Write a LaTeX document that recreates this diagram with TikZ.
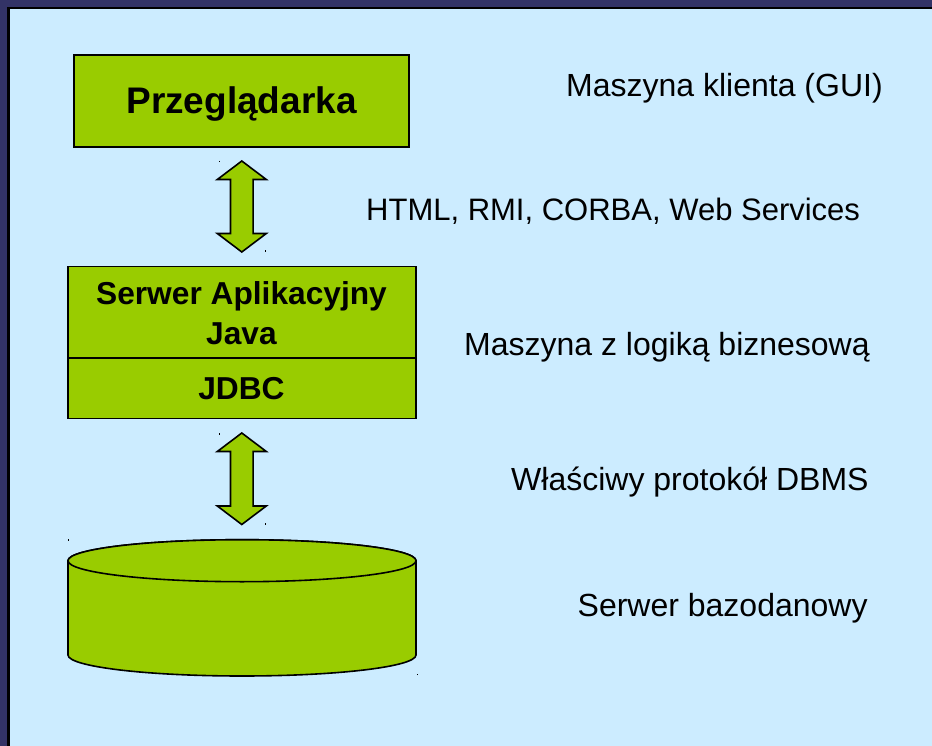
\documentclass[tikz,border=0pt]{standalone}
\usepackage{fontspec}
\setmainfont{Liberation Sans}
\definecolor{slidenavy}{HTML}{333366}
\definecolor{slidebg}{HTML}{CCECFF}
\definecolor{boxgreen}{HTML}{99CC00}
\tikzset{
  shapeline/.style={draw=black, line width=1.6pt, fill=boxgreen, line join=miter},
  tierbox/.style={shapeline, minimum width=#1, inner sep=0pt, outer sep=0pt},
  boldlabel/.style={font=\bfseries\fontsize{31.7}{36}\selectfont, anchor=base, inner sep=0pt},
  sidelabel/.style={font=\fontsize{32}{38}\selectfont, anchor=base west, inner sep=0pt},
  tick/.style={draw=black, line width=0.8pt},
}
% vertical double block arrow: centre x, top tip, lower tip
\newcommand{\blockarrow}[3]{%
  \filldraw[shapeline]
    (#1,#2) -- ++(24.5,18.5) -- ++(-13.2,0) -- (#1+11.3,#3-18.5)
    -- ++(13.2,0) -- (#1,#3) -- (#1-24.5,#3-18.5) -- ++(13.2,0)
    -- (#1-11.3,#2+18.5) -- ++(-13.2,0) -- cycle;
  \draw[tick] (#1-22.5,#2) -- ++(0,1.5);
  \draw[tick] (#1+23.5,#3) -- ++(0,-1.5);
}
\begin{document}
\begin{tikzpicture}[x=1pt, y=-1pt]
  \useasboundingbox (0,0) rectangle (932,746);
  % slide frame
  \fill[slidenavy] (0,0) rectangle (932,746);
  \fill[black] (7,7) rectangle (932,746);
  \fill[slidebg] (9.5,9.5) rectangle (932,746);

  % client tier
  \node[tierbox=335pt, minimum height=92pt] (browser) at (241.5,101) {};
  \node[boldlabel, font=\bfseries\fontsize{37}{42}\selectfont] (browsertxt) at (241.5,114) {Przeglądarka};

  % application server tier
  \node[tierbox=348pt, minimum height=91pt] (appserver) at (241.7,312.2) {};
  \node[tierbox=348pt, minimum height=60.6pt] (jdbc) at (241.7,388) {};
  \node[boldlabel] (apptxt) at (241.5,305) {Serwer Aplikacyjny};
  \node[boldlabel] (javatxt) at (241.5,344) {Java};
  \node[boldlabel] (jdbctxt) at (241.5,399.3) {JDBC};

  % connectors between tiers
  \blockarrow{241.8}{161}{252}
  \blockarrow{241.8}{433}{524.5}

  % database server
  \filldraw[shapeline] (68,560.7) -- (68,655) arc[start angle=180, end angle=0, x radius=174, y radius=21]
    -- (416,560.7) arc[start angle=0, end angle=-180, x radius=174, y radius=21] -- cycle;
  \draw[shapeline] (242,560.7) ellipse[x radius=174, y radius=21];
  \coordinate (dbtl) at (68,539);
  \coordinate (dbbr) at (417,675);
  \draw[tick] (dbtl) -- ++(0,1.5);
  \draw[tick] (dbbr) -- ++(0,-1.5);

  % tier descriptions
  \node[sidelabel] (l1) at (566,96.7) {Maszyna klienta (GUI)};
  \node[sidelabel, font=\fontsize{31}{37}\selectfont] (l2) at (366,221) {HTML, RMI, CORBA, Web Services};
  \node[sidelabel] (l3) at (464,355) {Maszyna z logiką biznesową};
  \node[sidelabel] (l4) at (511,490.7) {Właściwy protokół DBMS};
  \node[sidelabel] (l5) at (577.5,616.7) {Serwer bazodanowy};
\end{tikzpicture}
\end{document}
